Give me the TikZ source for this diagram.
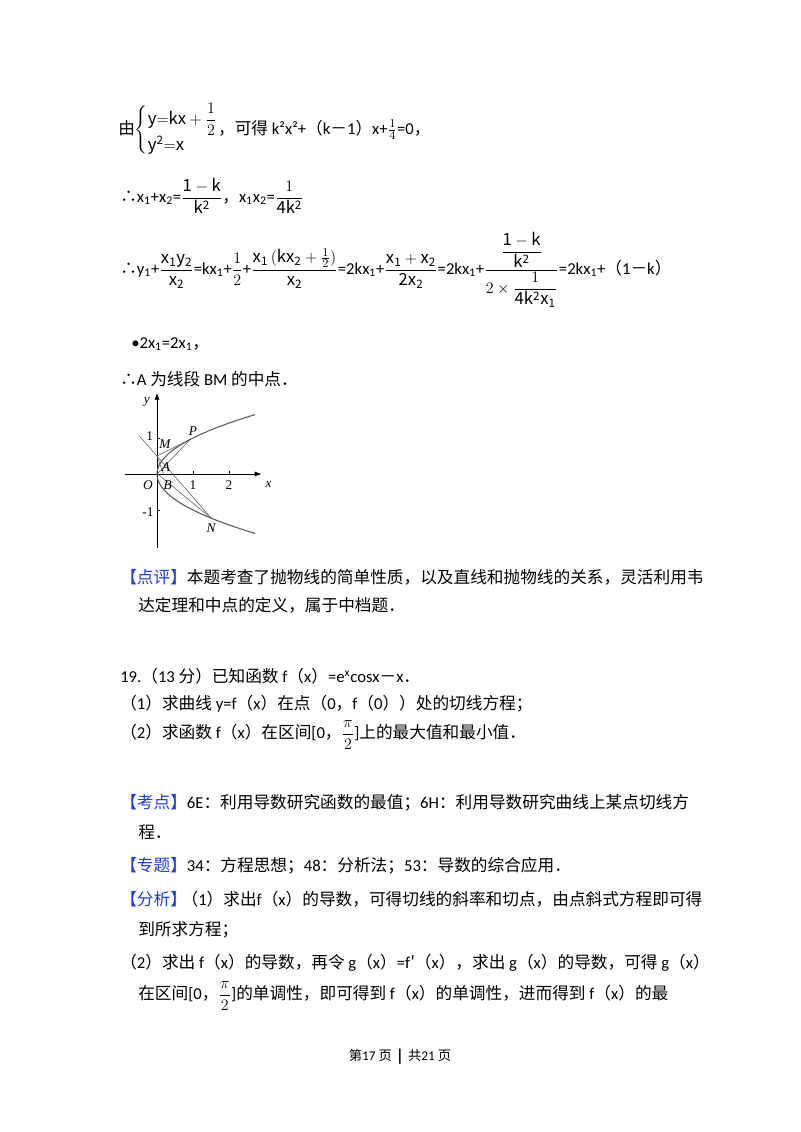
\documentclass[tikz,border=0pt]{standalone}
\usepackage{fontspec}
\usepackage{amsmath}
\usetikzlibrary{arrows.meta}
\setmainfont{Noto Sans CJK SC}
\newfontfamily\lat{Carlito}
\newfontfamily\tms{Liberation Serif}
\definecolor{kblue}{RGB}{30,60,220}
\begin{document}
\begin{tikzpicture}[x=0.75pt,y=-0.75pt,
  txt/.style={anchor=west,inner sep=0pt,font=\fontsize{12.5}{15}\selectfont},
  lbl/.style={inner sep=0pt,font=\tms\itshape\fontsize{10}{12}\selectfont},
  num/.style={inner sep=0pt,font=\tms\fontsize{10}{12}\selectfont}]
\fill[white] (0,0) rectangle (800,1132);
\node[txt] (l1) at (118,130) {由$\left\{\begin{array}{@{}l@{}} \mathrm{y{=}kx}+\dfrac{1}{2}\\[4pt] \mathrm{y^{2}{=}x}\end{array}\right.$，可得 {\lat k²x²+}（{\lat k}－{\lat 1}）{\lat x+}$\frac{1}{4}${\lat =0}，};
\node[txt] (l2) at (120,196) {∴{\lat x\textsubscript{1}+x\textsubscript{2}=}$\dfrac{\mathrm{1-k}}{\mathrm{k^{2}}}$，{\lat x\textsubscript{1}x\textsubscript{2}=}$\dfrac{1}{\mathrm{4k^{2}}}$};
\node[txt] (l3) at (120,270) {∴{\lat y\textsubscript{1}+}$\dfrac{\mathrm{x_1y_2}}{\mathrm{x_2}}${\lat =kx\textsubscript{1}+}$\dfrac12${\lat +}$\dfrac{\mathrm{x_1\,(kx_2}+\frac12)}{\qquad \mathrm{x_2}\qquad}${\lat =2kx\textsubscript{1}+}$\dfrac{\mathrm{x_1+x_2}}{\mathrm{2x_2}}${\lat =2kx\textsubscript{1}+}$\dfrac{\;\dfrac{\mathrm{1-k}}{\mathrm{k^2}}\;}{2\times\dfrac{1}{\mathrm{4k^2x_1}}}${\lat =2kx\textsubscript{1}+}（{\lat 1}－{\lat k}）};
\node[txt] (l4) at (131,344) {{\lat •2x\textsubscript{1}=2x\textsubscript{1}}，};
\node[txt] (l5) at (120,379) {∴{\lat A} 为线段 {\lat BM} 的中点．};
% graph
\begin{scope}[shift={(157,474)},x=27pt,y=27pt]
\draw[-{Latex[length=5pt]}] (-0.9,0) -- (2.9,0) coordinate (xe);
\draw[-{Latex[length=5pt]}] (0,-2.05) -- (0,2.25) coordinate (ye);
\draw (1,0) -- (1,0.08) (2,0) -- (2,0.08) (0,1) -- (0.08,1) (0,-1) -- (0.08,-1);
\draw[gray!70!black,thick] plot[domain=-1.65:1.65,samples=60,smooth] ({\x*\x},\x);
\coordinate (M) at (0,0.5);
\coordinate (P) at (0.92,0.96);
\coordinate (N) at (1.51,-1.23);
\coordinate (B) at (0.18,0);
\coordinate (Q) at (-0.5,1.07);
\draw[gray!70!black] (Q) -- (N);
\draw[gray!70!black] (M) -- (P);
\draw[gray!70!black] (0.02,0.02) -- (P);
\draw[gray!70!black] (0.02,0) -- (N);
\draw[gray!70!black] (M) -- (B);
\node[lbl] at (-0.28,2.0) {y};
\node[lbl] at (3.1,-0.3) {x};
\node[lbl] at (-0.25,-0.3) {O};
\node[lbl] at (0.3,-0.32) {B};
\node[lbl] at (0.25,0.18) {A};
\node[lbl] at (0.22,0.82) {M};
\node[lbl] at (1.0,1.2) {P};
\node[lbl] at (1.5,-1.5) {N};
\node[num] at (1,-0.3) {1};
\node[num] at (2,-0.3) {2};
\node[num] at (-0.2,1.05) {1};
\node[num] at (-0.25,-1.05) {-1};
\end{scope}
\node[txt] (dp) at (120,577) {\textcolor{kblue}{【点评】}本题考查了抛物线的简单性质，以及直线和抛物线的关系，灵活利用韦};
\node[txt] (dp2) at (138,605) {达定理和中点的定义，属于中档题．};
\node[txt] (q19) at (120,676) {{\lat 19.}（{\lat 13} 分）已知函数 {\lat f}（{\lat x}）{\lat =e\textsuperscript{x}cosx}－{\lat x}．};
\node[txt] (q1) at (120,704) {（{\lat 1}）求曲线 {\lat y=f}（{\lat x}）在点（{\lat 0}，{\lat f}（{\lat 0}））处的切线方程；};
\node[txt] (q2) at (120,735) {（{\lat 2}）求函数 {\lat f}（{\lat x}）在区间{\lat [0}，$\dfrac{\pi}{2}${\lat ]}上的最大值和最小值．};
\node[txt] (kd) at (120,803) {\textcolor{kblue}{【考点】}{\lat 6E}：利用导数研究函数的最值；{\lat 6H}：利用导数研究曲线上某点切线方};
\node[txt] (kd2) at (138,832) {程．};
\node[txt] (zt) at (120,866) {\textcolor{kblue}{【专题】}{\lat 34}：方程思想；{\lat 48}：分析法；{\lat 53}：导数的综合应用．};
\node[txt] (fx) at (120,899) {\textcolor{kblue}{【分析】}\hspace{-4pt}（{\lat 1}）求出{\lat f}（{\lat x}）的导数，可得切线的斜率和切点，由点斜式方程即可得};
\node[txt] (fx2) at (138,930) {到所求方程；};
\node[txt] (fx3) at (120,963) {（{\lat 2}）求出 {\lat f}（{\lat x}）的导数，再令 {\lat g}（{\lat x}）{\lat =f}′（{\lat x}），求出 {\lat g}（{\lat x}）的导数，可得 {\lat g}（{\lat x}）};
\node[txt] (fx4) at (138,996) {在区间{\lat [0}，$\dfrac{\pi}{2}${\lat ]}的单调性，即可得到 {\lat f}（{\lat x}）的单调性，进而得到 {\lat f}（{\lat x}）的最};
\node[anchor=center,inner sep=0pt,font=\fontsize{10}{12}\selectfont] (ft) at (400,1057) {第{\lat 17} 页 \ \textbf{|} \ 共{\lat 21} 页};
\end{tikzpicture}
\end{document}
